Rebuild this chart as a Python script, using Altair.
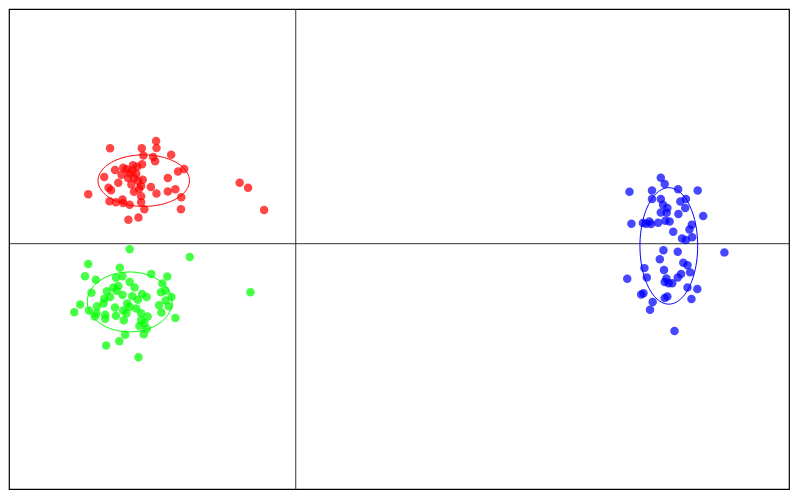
import altair as alt
import numpy as np
import pandas as pd

# ---- data ----
red_x = [-14.27, -18.97, -15.73, -14.23, -12.73, -15.57, -14.57, -14.37, -11.4, -12.03,
         -18.47, -17.63, -16.63, -16.2, -15.7, -19.57, -17.8, -16.97, -16.3, -17.13,
         -15.63, -13.07, -18.13, -16.8, -15.8, -14.8, -19.13, -18.87, -21.2, -16.53,
         -15.8, -14.23, -13.07, -12.3, -11.7, -19.03, -18.37, -17.7, -17.63, -16.97,
         -15.8, -15.47, -11.73, -17.1, -16.07, -5.73, -4.87, -3.23,
         -16.5, -16.1, -17.3, -16.0, -16.7]
red_y = [10.63, 9.87, 9.87, 9.9, 9.2, 9.13, 8.97, 8.53, 7.73, 7.47,
         7.63, 7.87, 8.13, 7.97, 8.23, 6.9, 7.13, 7.3, 7.23, 6.8,
         6.63, 6.8, 6.3, 6.13, 5.97, 5.87, 5.8, 5.53, 5.13, 5.37,
         4.9, 5.2, 5.4, 5.63, 4.8, 4.4, 4.3, 4.57, 4.2, 4.03,
         4.3, 3.57, 3.57, 2.47, 2.7, 6.3, 5.8, 3.5,
         6.8, 6.5, 7.7, 5.7, 7.6]

green_x = [-16.97, -10.83, -21.2, -21.53, -20.43, -17.97, -18.37, -17.7, -14.77, -13.13,
           -16.97, -16.47, -13.63, -20.87, -19.3, -18.63, -18.13, -18.3, -17.7, -16.7,
           -15.7, -15.23, -13.77, -13.3, -12.7, -13.3, -19.57, -18.97, -19.63, -22.03,
           -20.3, -18.47, -17.23, -16.97, -16.13, -16.3, -13.97, -12.97, -22.63, -21.13,
           -17.63, -17.3, -15.8, -13.73, -20.37, -20.53, -19.47, -19.47, -18.37, -17.57,
           -15.8, -15.13, -12.3, -15.97, -15.47, -15.23, -17.43, -15.53, -18.03, -19.37,
           -16.07, -4.63]
green_y = [-0.57, -1.37, -2.1, -3.37, -3.73, -2.5, -3.53, -3.37, -3.13, -3.4,
           -3.97, -4.53, -4.13, -5.07, -4.93, -4.53, -4.37, -4.87, -5.3, -5.43,
           -5.2, -5.53, -5.03, -4.87, -5.53, -5.87, -5.7, -5.53, -6.2, -6.3,
           -6.47, -6.6, -6.2, -6.53, -5.8, -6.7, -6.37, -6.47, -7.1, -6.93,
           -6.93, -7.2, -7.2, -7.13, -7.2, -7.53, -7.37, -7.77, -7.47, -7.93,
           -7.93, -7.53, -7.7, -8.53, -8.2, -8.8, -9.43, -9.37, -10.1, -10.53,
           -11.77, -5.03]

blue_x = [37.3, 37.7, 34.1, 36.4, 39.07, 41.07, 36.4, 37.3, 37.53, 37.97,
          39.3, 39.87, 39.8, 37.3, 37.9, 39.1, 41.63, 34.3, 35.47, 35.8,
          36.13, 36.3, 37.03, 37.77, 38.2, 40.47, 40.23, 38.57, 40.5, 39.47,
          39.87, 43.8, 37.57, 39.03, 37.2, 39.6, 40.03, 35.63, 37.63, 40.3,
          39.37, 39.03, 35.87, 33.87, 37.87, 37.7, 38.1, 38.47, 40.03, 41.03,
          35.53, 35.3, 37.97, 37.7, 40.43, 36.47, 36.2, 38.7]
blue_y = [6.83, 6.17, 5.37, 5.5, 5.63, 5.5, 4.63, 4.63, 4.03, 3.7,
          4.37, 4.63, 3.7, 3.23, 3.2, 3.07, 2.87, 2.07, 2.13, 2.07,
          2.3, 2.03, 2.17, 2.37, 2.3, 1.97, 1.47, 1.23, 0.67, 0.53,
          0.37, -0.9, -0.67, -0.83, -1.6, -1.97, -2.23, -2.53, -2.73, -2.97,
          -3.13, -3.5, -3.5, -3.63, -3.6, -3.97, -4.1, -4.1, -4.53, -4.7,
          -5.13, -5.27, -5.47, -5.63, -5.73, -6.03, -6.83, -9.03]

groups = ["red", "green", "blue"]
colors = ["#ff0000", "#00ff00", "#0000ff"]

# ellipse centres and semi-axes, per group
ell_cx = [-15.53, -16.97, 38.12]
ell_cy = [6.53, -6.03, -0.23]
ell_rx = [4.67, 4.33, 2.95]
ell_ry = [2.67, 3.1, 6.03]

x_domain = [-29.3, 50.4]
y_domain = [-25.4, 24.3]

# ---- tables ----
pts = pd.concat([
    pd.DataFrame({"x": red_x, "y": red_y, "g": "red"}),
    pd.DataFrame({"x": green_x, "y": green_y, "g": "green"}),
    pd.DataFrame({"x": blue_x, "y": blue_y, "g": "blue"}),
], ignore_index=True)

t = np.linspace(0, 2 * np.pi, 121)
ell_rows = []
for g, cx, cy, rx, ry in zip(groups, ell_cx, ell_cy, ell_rx, ell_ry):
    for i, a in enumerate(t):
        ell_rows.append({"x": cx + rx * np.cos(a), "y": cy + ry * np.sin(a), "g": g, "o": i})
ell = pd.DataFrame(ell_rows)

xs = alt.Scale(domain=x_domain, nice=False, zero=False)
ys = alt.Scale(domain=y_domain, nice=False, zero=False)
cs = alt.Scale(domain=groups, range=colors)

vline = alt.Chart(pd.DataFrame({"x": [0.0]})).mark_rule(color="#333333", strokeWidth=1).encode(
    x=alt.X("x:Q", scale=xs, axis=None))
hline = alt.Chart(pd.DataFrame({"y": [0.0]})).mark_rule(color="#333333", strokeWidth=1).encode(
    y=alt.Y("y:Q", scale=ys, axis=None))

points = alt.Chart(pts).mark_circle(size=72, opacity=0.72).encode(
    x=alt.X("x:Q", scale=xs, axis=None),
    y=alt.Y("y:Q", scale=ys, axis=None),
    color=alt.Color("g:N", scale=cs, legend=None),
)

ellipses = alt.Chart(ell).mark_line(strokeWidth=1).encode(
    x=alt.X("x:Q", scale=xs, axis=None),
    y=alt.Y("y:Q", scale=ys, axis=None),
    color=alt.Color("g:N", scale=cs, legend=None),
    detail="g:N",
    order="o:Q",
)

chart = alt.layer(vline, hline, ellipses, points).properties(
    width=782, height=482, padding=0,
    autosize=alt.AutoSizeParams(type="fit", contains="padding"),
    background="white",
).configure_view(stroke="#000000", strokeWidth=1.2)

chart.save("out.html", embed_options={"renderer": "svg", "actions": False})
